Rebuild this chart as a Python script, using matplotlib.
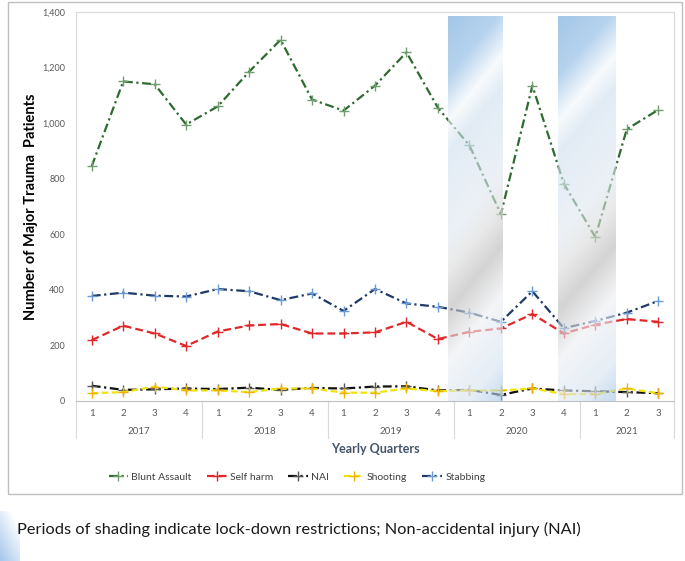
import matplotlib
matplotlib.use('Agg')
import matplotlib.pyplot as plt
import matplotlib.patches as mpatches
from matplotlib.lines import Line2D
from matplotlib.colors import to_rgb
import numpy as np

plt.rcParams['font.family'] = ['Lato', 'DejaVu Sans']

quarters = ['1', '2', '3', '4', '1', '2', '3', '4', '1', '2', '3', '4',
            '1', '2', '3', '4', '1', '2', '3']
years = ['2017', '2018', '2019', '2020', '2021']
quarters_per_year = [4, 4, 4, 4, 3]

blunt_assault = [845, 1150, 1140, 995, 1060, 1185, 1300, 1085, 1045, 1135, 1255, 1055,
                 920, 672, 1135, 782, 590, 978, 1048]
self_harm = [219, 271, 243, 198, 250, 272, 277, 243, 243, 247, 285, 223,
             249, 261, 313, 243, 275, 295, 285]
nai = [55, 40, 42, 45, 43, 48, 40, 47, 45, 52, 53, 38,
       40, 22, 45, 38, 35, 32, 28]
shooting = [28, 32, 52, 38, 38, 32, 45, 45, 30, 30, 45, 35,
            38, 38, 45, 25, 25, 45, 28]
stabbing = [378, 390, 379, 376, 403, 395, 363, 387, 324, 403, 351, 339,
            318, 285, 395, 262, 288, 318, 360]

# lock-down periods, in quarter-index units along the x axis
lockdowns = [(11.33, 13.05), (14.8, 16.63)]

series = [
    ('Blunt Assault', blunt_assault, '#2e6b30', '#6f9f6f', (4, 1.6, 1, 1.6)),
    ('Self harm', self_harm, '#e0282a', '#e0282a', (3.5, 1.8)),
    ('NAI', nai, '#111111', '#555555', (4, 1.6, 1, 1.6)),
    ('Shooting', shooting, '#f2e20c', '#f0b400', (3, 1.5)),
    ('Stabbing', stabbing, '#1f3a66', '#6a9bd4', (4, 1.6, 1, 1.6)),
]

fig = plt.figure(figsize=(6.85, 5.61), dpi=100)
W, H = 685, 561
ax = fig.add_axes([76 / W, 1 - 401 / H, 598 / W, 389 / H])

x = np.arange(len(quarters))
handles = []
for name, vals, col, mcol, dash in series:
    ax.plot(x, vals, color=col, lw=1.6, dashes=dash, zorder=3)
    ax.plot(x, vals, ls='none', marker='+', ms=7.5, mew=1.0, color=mcol, zorder=3)
    handles.append(Line2D([], [], color=col, lw=1.6, dashes=dash, marker='+',
                          ms=7, mew=1.0, mfc=mcol, mec=mcol))

# gradient shading bands
def band_image(nx=60, ny=400):
    u = np.linspace(0, 1, nx)[None, :]
    v = np.linspace(0, 1, ny)[:, None]
    s = v * 385 + 1.2 * u * 55
    stops = [0, 60, 105, 135, 220, 255, 295, 345, 410, 452]
    cols = ['#a3c7e8', '#b6d3ee', '#f8fbfd', '#e2ecf5', '#ecf1f6',
            '#eaeaea', '#d4d4d4', '#f4f5f7', '#e6eef7', '#c6dbef']
    rgb = np.array([to_rgb(c) for c in cols])
    img = np.zeros((ny, nx, 3))
    for k in range(3):
        img[:, :, k] = np.interp(s, stops, rgb[:, k])
    a = 0.62
    img = np.clip((img - (1 - a)) / a, 0, 1)
    return img, a

img, a = band_image()
for x0, x1 in lockdowns:
    ax.imshow(img, extent=(x0, x1, 0, 1385), aspect='auto', alpha=a,
              interpolation='bilinear', zorder=4, origin='upper')

ax.set_xlim(-0.5, len(quarters) - 0.5)
ax.set_ylim(0, 1400)
ax.set_yticks(range(0, 1401, 200))
ax.set_yticklabels([f'{v:,}' for v in range(0, 1401, 200)])
ax.set_xticks(x)
ax.set_xticklabels(quarters)
ax.tick_params(axis='both', length=0, labelsize=7, labelcolor='#595959')
ax.tick_params(axis='y', pad=8, labelsize=6.5)
ax.tick_params(axis='x', pad=6)
for sp in ['left', 'top', 'right']:
    ax.spines[sp].set_color('#d9d9d9')
    ax.spines[sp].set_linewidth(0.8)
ax.spines['bottom'].set_color('#bfbfbf')
ax.spines['bottom'].set_linewidth(0.8)

# year group labels and separators
trans = ax.get_xaxis_transform()
start = -0.5
bounds = [start]
for yr, n in zip(years, quarters_per_year):
    ax.text(start + n / 2, -31 / 389, yr, transform=trans, ha='center', va='center',
            fontsize=7, color='#595959')
    start += n
    bounds.append(start)
for b in bounds:
    ax.plot([b, b], [0, -37 / 389], transform=trans, color='#d9d9d9', lw=0.8,
            clip_on=False)

ax.set_ylabel('Number of Major Trauma  Patients', fontsize=10.5, fontweight='bold')
ax.yaxis.set_label_coords(-38 / 598, 0.5)
fig.text(375 / W, 1 - 449 / H, 'Yearly Quarters', ha='center', va='center',
         fontsize=9, fontweight='bold', color='#44546a')

fig.legend(handles=handles, labels=[s[0] for s in series],
           loc='center', bbox_to_anchor=(297 / W, 1 - 477 / H), ncol=5,
           frameon=False, fontsize=7.5, handlelength=1.9, handletextpad=0.3,
           columnspacing=1.45, labelcolor='#404040')

# outer chart border
fig.patches.append(mpatches.Rectangle((8 / W, 1 - 494 / H), 674 / W, 492 / H,
                                      transform=fig.transFigure, fill=False,
                                      edgecolor='#bfbfbf', lw=1))

fig.text(17 / W, 1 - 529 / H,
         'Periods of shading indicate lock-down restrictions; Non-accidental injury (NAI)',
         ha='left', va='center', fontsize=11.8, color='#1a1a1a')

# small corner decoration
cax = fig.add_axes([0, 0, 20 / W, 50 / H])
cu = np.linspace(0, 1, 30)[None, :]
cv = np.linspace(0, 1, 60)[:, None]
cs = np.clip((1 - cu) * 0.5 + cv * 0.7 - 0.2, 0, 1)
cimg = np.dstack([1 - 0.35 * cs, 1 - 0.22 * cs, 1 - 0.08 * cs])
cax.imshow(cimg, aspect='auto', origin='upper')
cax.axis('off')

fig.savefig('out.png', dpi=100)
